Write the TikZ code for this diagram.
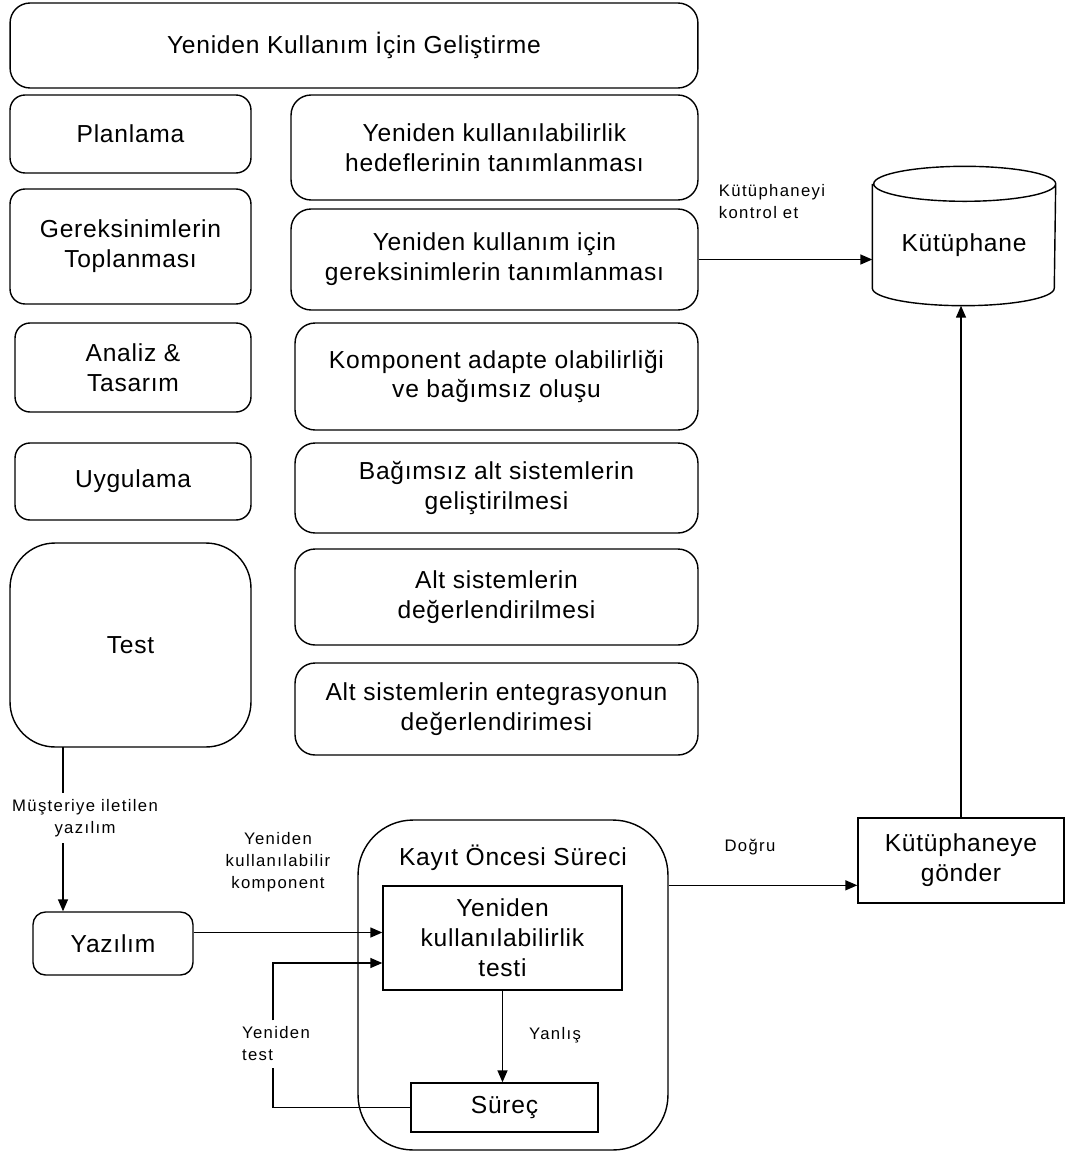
\documentclass[tikz,border=0pt]{standalone}
\usepackage{fontspec}
\setmainfont[LetterSpace=3]{Liberation Sans}
\newfontfamily\notefont[LetterSpace=8]{Liberation Sans}
\usetikzlibrary{arrows.meta}

\tikzset{
  box/.style={draw, rounded corners=0.4cm, align=center, inner sep=2pt, font=\fontsize{14}{17}\selectfont},
  sqbox/.style={draw, align=center, inner sep=2pt, font=\fontsize{14}{17}\selectfont},
  note/.style={align=center, font=\notefont\fontsize{9.5}{12.5}\selectfont},
}

\begin{document}
\begin{tikzpicture}[x=0.02cm, y=-0.02cm, line width=0.8pt, >={Triangle[length=0.24cm,width=0.2cm]}]
\useasboundingbox (0,0) rectangle (1065,1153);
% left column
\node[box, minimum width=13.76cm, minimum height=1.7cm] (top) at (354,45.5) {Yeniden Kullanım İçin Geliştirme};
\node[box, rounded corners=0.3cm, minimum width=4.82cm, minimum height=1.56cm] (plan) at (130.5,134) {Planlama};
\node[box, rounded corners=0.3cm, minimum width=4.82cm, minimum height=2.3cm] (gerek) at (130.5,246.5) {Gereksinimlerin\\Toplanması};
\node[box, rounded corners=0.3cm, minimum width=4.72cm, minimum height=1.78cm] (analiz) at (133,367.5) {Analiz \&\\Tasarım};
\node[box, rounded corners=0.3cm, minimum width=4.72cm, minimum height=1.54cm] (uyg) at (133,481.5) {Uygulama};
\node[box, rounded corners=0.9cm, minimum width=4.82cm, minimum height=4.08cm] (test) at (130.5,645) {Test};
% right column
\node[box, minimum width=8.14cm, minimum height=2.1cm] (hedef) at (494.5,147.5) {Yeniden kullanılabilirlik\\hedeflerinin tanımlanması};
\node[box, minimum width=8.14cm, minimum height=2.02cm] (gerekt) at (494.5,259.5) {Yeniden kullanım için\\gereksinimlerin tanımlanması};
\node[box, minimum width=8.06cm, minimum height=2.14cm] (komp) at (496.5,376.5) {Komponent adapte olabilirliği\\ve bağımsız oluşu};
\node[box, minimum width=8.06cm, minimum height=1.8cm] (bagim) at (496.5,488) {Bağımsız alt sistemlerin\\geliştirilmesi};
\node[box, minimum width=8.06cm, minimum height=1.92cm] (altdeg) at (496.5,597) {Alt sistemlerin\\değerlendirilmesi};
\node[box, minimum width=8.06cm, minimum height=1.84cm] (enteg) at (496.5,709) {Alt sistemlerin entegrasyonun\\değerlendirimesi};

% library
\node[sqbox, draw=none, minimum width=3.64cm, minimum height=2.76cm, text height=0.72cm, text depth=0.09cm] (kutup) at (964,236) {Kütüphane};
\draw ([yshift=-0.35cm]kutup.north west) -- ([yshift=0.35cm]kutup.south west)
  arc[start angle=180, end angle=360, x radius=1.82cm, y radius=0.35cm]
  -- ([yshift=-0.35cm]kutup.north east)
  arc[start angle=0, end angle=360, x radius=1.82cm, y radius=0.35cm];
\draw[->] (gerekt.east) -- (kutup.west |- gerekt.east);
\node[note, align=left] (kontrol) at (772,202) {Kütüphaneyi\\kontrol et};

% bottom part
\node[box, rounded corners=0.25cm, minimum width=3.2cm, minimum height=1.26cm] (yazilim) at (113,943.5) {Yazılım};
\node[box, rounded corners=1.1cm, minimum width=6.2cm, minimum height=6.6cm] (kayit) at (513,985) {};
\node[sqbox, draw=none] (kayitbas) at (513,858) {Kayıt Öncesi Süreci};
\node[sqbox, minimum width=4.78cm, minimum height=2.08cm] (testbox) at (502.5,938) {Yeniden\\kullanılabilirlik\\testi};
\node[sqbox, minimum width=3.74cm, minimum height=0.98cm] (surec) at (504.5,1107.5) {Süreç};
\node[sqbox, minimum width=4.12cm, minimum height=1.7cm] (gonder) at (961,860.5) {Kütüphaneye\\gönder};

\node[note] (musteri) at (85,818) {Müşteriye iletilen\\yazılım};
\node[note] (komplabel) at (278,862) {Yeniden\\kullanılabilir\\komponent};
\node[note, align=left] (retest) at (276,1044) {Yeniden\\test};
\node[note] (yanlis) at (555,1035) {Yanlış};
\node[note] (dogru) at (750,847) {Doğru};

\coordinate (drop) at (63,747);
\draw (drop) -- (drop |- musteri.north);
\draw[->] (drop |- musteri.south) -- (drop |- yazilim.north);
\draw[->] ([yshift=0.22cm]yazilim.east) -- ([yshift=0.22cm]yazilim.east -| testbox.west);
\draw (surec.west) -| ([xshift=-0.06cm]retest.south);
\draw[->] ([xshift=-0.06cm]retest.north) |- ([yshift=-0.5cm]testbox.west);
\draw[->] (testbox.south) -- (testbox.south |- surec.north);
\draw[->] (kayit.east |- testbox.north) -- (gonder.west |- testbox.north);
\draw[->] (gonder.north) -- (gonder.north |- kutup.south);
\end{tikzpicture}
\end{document}
